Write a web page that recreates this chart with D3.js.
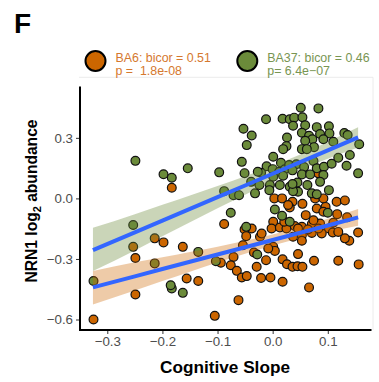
<!DOCTYPE html>
<html>
<head>
<meta charset="utf-8">
<script src="https://cdn.jsdelivr.net/npm/d3@7"></script>
<style>
  html, body { margin: 0; padding: 0; background: #fff; }
  svg { display: block; font-family: "Liberation Sans", Arial, Helvetica, sans-serif; }
</style>
</head>
<body>
<svg id="chart" width="379" height="382"></svg>
<script>
// Cognitive slope vs NRN1 abundance, two brain regions
const ba6Points = [
  [-0.183, 0.053], [-0.253, -0.240], [-0.214, -0.198], [-0.198, -0.218], [-0.163, -0.240],
  [-0.249, -0.295], [-0.249, -0.476], [-0.156, -0.397], [-0.135, -0.409], [-0.325, -0.600],
  [-0.105, -0.582], [-0.062, -0.504], [0.003, 0.000], [0.017, 0.000], [0.036, -0.017],
  [0.054, -0.027], [0.077, 0.000], [0.092, 0.000], [0.116, -0.017], [0.131, -0.010],
  [0.083, 0.124], [-0.088, -0.127], [-0.038, -0.149], [-0.051, -0.154], [-0.048, -0.187],
  [-0.023, -0.190], [0.031, -0.045], [0.060, -0.083], [0.080, -0.050], [0.096, -0.042],
  [0.117, -0.078], [0.135, -0.094], [0.001, -0.116], [-0.002, -0.149], [0.013, -0.144],
  [0.025, -0.149], [0.040, -0.137], [0.053, -0.141], [0.071, -0.127], [0.086, -0.124],
  [0.102, -0.149], [0.109, -0.169], [0.089, -0.174], [0.071, -0.171], [0.053, -0.182],
  [0.037, -0.190], [0.053, -0.210], [0.155, -0.169], [0.139, -0.210], [0.001, -0.240],
  [0.004, -0.260], [-0.008, -0.248], [-0.034, -0.268], [-0.054, -0.232], [-0.071, -0.290],
  [-0.076, -0.331], [-0.065, -0.359], [-0.056, -0.392], [-0.047, -0.385], [-0.029, -0.339],
  [-0.012, -0.306], [-0.021, -0.394], [-0.004, -0.392], [0.018, -0.413], [0.018, -0.302],
  [0.026, -0.326], [0.036, -0.339], [0.045, -0.336], [0.054, -0.339], [0.046, -0.276],
  [0.075, -0.309], [0.119, -0.309], [0.156, -0.327], [0.066, -0.441], [-0.094, -0.319],
  [0.028, -0.033], [0.092, -0.066], [0.021, -0.116], [0.074, -0.108], [0.110, -0.121],
  [0.064, -0.154], [0.046, -0.149], [0.083, -0.149], [0.131, -0.198], [-0.020, -0.174],
  [0.119, -0.166]
];

const ba37Points = [
  [-0.249, 0.186], [-0.198, 0.120], [-0.183, 0.102], [-0.154, 0.149], [-0.253, -0.132],
  [-0.135, -0.265], [-0.214, -0.322], [-0.325, -0.409], [-0.183, -0.446], [-0.163, -0.468],
  [-0.185, -0.430], [0.051, 0.449], [0.083, 0.446], [-0.012, 0.392], [0.018, 0.395],
  [0.031, 0.392], [0.039, 0.400], [0.054, 0.402], [0.037, 0.360], [0.059, 0.362],
  [0.080, 0.353], [0.102, 0.357], [-0.053, 0.345], [-0.038, 0.312], [0.053, 0.325],
  [0.066, 0.310], [0.086, 0.319], [0.103, 0.322], [0.130, 0.324], [0.136, 0.314],
  [0.026, 0.302], [0.072, 0.293], [0.059, 0.286], [0.092, 0.293], [0.110, 0.281],
  [-0.047, 0.264], [0.025, 0.259], [0.019, 0.244], [0.053, 0.244], [0.075, 0.254],
  [0.062, 0.244], [0.157, 0.268], [-0.097, 0.129], [-0.056, 0.181], [-0.051, 0.125],
  [0.001, 0.206], [0.015, 0.177], [-0.011, 0.159], [-0.021, 0.127], [0.000, 0.145],
  [0.012, 0.132], [0.022, 0.144], [0.030, 0.165], [0.043, 0.169], [0.036, 0.139],
  [0.057, 0.155], [0.074, 0.185], [0.080, 0.149], [0.093, 0.157], [0.107, 0.172],
  [0.119, 0.201], [0.140, 0.215], [0.134, 0.162], [0.155, 0.124], [0.053, 0.119],
  [0.068, 0.119], [0.092, 0.116], [0.019, 0.112], [0.001, 0.107], [-0.039, 0.082],
  [-0.024, 0.066], [-0.005, 0.066], [-0.006, 0.041], [0.013, 0.066], [0.045, 0.079],
  [0.086, 0.082], [0.063, 0.066], [0.031, 0.058], [0.046, 0.033], [0.071, 0.025],
  [0.102, 0.041], [-0.032, 0.025], [-0.088, 0.036], [-0.071, 0.016], [-0.061, 0.016],
  [0.037, 0.036], [-0.076, -0.071], [-0.048, -0.141], [0.004, -0.055], [0.017, -0.086],
  [0.100, -0.071], [0.031, -0.116], [-0.028, -0.278], [-0.103, -0.311], [-0.027, 0.132],
  [0.036, 0.071], [0.080, 0.020]
];

// Linear fits with 95% confidence bands, sampled along the slope axis
const fitX    = [-0.326, -0.25, -0.2, -0.15, -0.1, -0.05, 0, 0.05, 0.1, 0.155];
const ba6Fit  = [-0.441, -0.386, -0.350, -0.314, -0.278, -0.242, -0.206, -0.170, -0.134, -0.094];
const ba6Lo   = [-0.526, -0.456, -0.409, -0.363, -0.317, -0.274, -0.233, -0.198, -0.167, -0.136];
const ba6Hi   = [-0.360, -0.316, -0.291, -0.265, -0.239, -0.210, -0.179, -0.142, -0.101, -0.052];
const ba37Fit = [-0.256, -0.168, -0.110, -0.052, 0.006, 0.064, 0.122, 0.180, 0.238, 0.302];
const ba37Lo  = [-0.360, -0.258, -0.188, -0.118, -0.049, 0.018, 0.082, 0.142, 0.196, 0.252];
const ba37Hi  = [-0.146, -0.078, -0.032, 0.014, 0.061, 0.110, 0.162, 0.218, 0.280, 0.352];

const xTicks = [-0.3, -0.2, -0.1, 0.0, 0.1];
const yTicks = [-0.6, -0.3, 0.0, 0.3];

const legendLabels = [
  { line1: "BA6: bicor = 0.51", line2: "p =  1.8e-08" },
  { line1: "BA37: bicor = 0.46", line2: "p= 6.4e\u221207" }
];

const ORANGE = "#CC6600";
const GREEN = "#6B8B3A";
const ORANGE_TEXT = "#D5782E";
const GREEN_TEXT = "#789552";
const BLUE = "#3366FF";

const svg = d3.select("#chart");

const panel = { left: 80, right: 373, top: 77.3, bottom: 330, axisTop: 86.5 };

const x = d3.scaleLinear().domain([-0.3495, 0.182]).range([panel.left, panel.right]);
const y = d3.scaleLinear().domain([-0.652, 0.600]).range([panel.bottom, panel.top]);

// Faint panel outline
svg.append("path")
  .attr("d", `M${panel.left - 1},${panel.top}H${panel.right}V${panel.bottom}`)
  .attr("fill", "none")
  .attr("stroke", "#ECECEC")
  .attr("stroke-width", 1);

// Points: BA6 first, BA37 on top
const pts = svg.append("g");
pts.selectAll("circle.ba6").data(ba6Points).join("circle")
  .attr("class", "ba6")
  .attr("cx", d => x(d[0])).attr("cy", d => y(d[1])).attr("r", 4.4)
  .attr("fill", ORANGE).attr("stroke", "#111").attr("stroke-width", 1.2);
pts.selectAll("circle.ba37").data(ba37Points).join("circle")
  .attr("class", "ba37")
  .attr("cx", d => x(d[0])).attr("cy", d => y(d[1])).attr("r", 4.4)
  .attr("fill", GREEN).attr("stroke", "#111").attr("stroke-width", 1.2);

// Confidence bands
function band(lo, hi) {
  return d3.area()
    .x((d, i) => x(fitX[i]))
    .y0((d, i) => y(lo[i]))
    .y1((d, i) => y(hi[i]))
    .curve(d3.curveMonotoneX)(fitX);
}
svg.append("path").attr("d", band(ba37Lo, ba37Hi)).attr("fill", GREEN).attr("fill-opacity", 0.36);
svg.append("path").attr("d", band(ba6Lo, ba6Hi)).attr("fill", ORANGE).attr("fill-opacity", 0.34);

// Fitted lines
const fitLine = vals => d3.line().x((d, i) => x(fitX[i])).y((d, i) => y(vals[i]))(fitX);
[ba37Fit, ba6Fit].forEach(v => {
  svg.append("path").attr("d", fitLine(v))
    .attr("fill", "none").attr("stroke", BLUE).attr("stroke-width", 4);
});

// Axes
const xAxis = svg.append("g")
  .attr("transform", `translate(0,${panel.bottom})`)
  .call(d3.axisBottom(x).tickValues(xTicks).tickFormat(d3.format(".1f")).tickSize(4).tickPadding(3).tickSizeOuter(0));
const yAxis = svg.append("g")
  .attr("transform", `translate(${panel.left},0)`)
  .call(d3.axisLeft(y).tickValues(yTicks).tickFormat(d3.format(".1f")).tickSize(4).tickPadding(3).tickSizeOuter(0));

[xAxis, yAxis].forEach(g => {
  g.select(".domain").remove();
  g.selectAll(".tick line").attr("stroke", "#333").attr("stroke-width", 1);
  g.selectAll(".tick text").attr("fill", "#4D4D4D").attr("font-size", 13.3)
    .attr("font-family", "'Liberation Sans', Arial, sans-serif");
});

svg.append("line")
  .attr("x1", panel.left).attr("x2", 371.5)
  .attr("y1", panel.bottom).attr("y2", panel.bottom)
  .attr("stroke", "#000").attr("stroke-width", 2);
svg.append("line")
  .attr("x1", panel.left).attr("x2", panel.left)
  .attr("y1", panel.axisTop).attr("y2", panel.bottom + 1)
  .attr("stroke", "#000").attr("stroke-width", 2);

// Axis titles
svg.append("text")
  .attr("x", 225).attr("y", 372.5)
  .attr("text-anchor", "middle")
  .attr("font-weight", "bold").attr("font-size", 17.2)
  .attr("fill", "#000")
  .text("Cognitive Slope");

const yTitle = svg.append("text")
  .attr("transform", "translate(37,201) rotate(-90)")
  .attr("text-anchor", "middle")
  .attr("font-weight", "bold").attr("font-size", 15.6)
  .attr("fill", "#000");
yTitle.append("tspan").text("NRN1 log");
yTitle.append("tspan").attr("font-size", 11).attr("dy", 4).text("2");
yTitle.append("tspan").attr("dy", -4).text(" abundance");

// Panel letter
svg.append("text")
  .attr("x", 14).attr("y", 33)
  .attr("font-weight", "bold").attr("font-size", 28)
  .attr("fill", "#000")
  .text("F");

// Legend
const legendX = [95.5, 247.3];
const legendColors = [ORANGE, GREEN];
const legendTextColors = [ORANGE_TEXT, GREEN_TEXT];
legendLabels.forEach((lab, i) => {
  const g = svg.append("g");
  g.append("circle")
    .attr("cx", legendX[i]).attr("cy", 61).attr("r", 10)
    .attr("fill", legendColors[i]).attr("stroke", "#000").attr("stroke-width", 2);
  const t = g.append("text")
    .attr("fill", legendTextColors[i]).attr("font-size", 12.4);
  t.append("tspan").attr("x", legendX[i] + 20).attr("y", 61.7).text(lab.line1);
  t.append("tspan").attr("x", legendX[i] + 20).attr("y", 75)
    .style("white-space", "pre").text(lab.line2);
});
</script>
</body>
</html>
